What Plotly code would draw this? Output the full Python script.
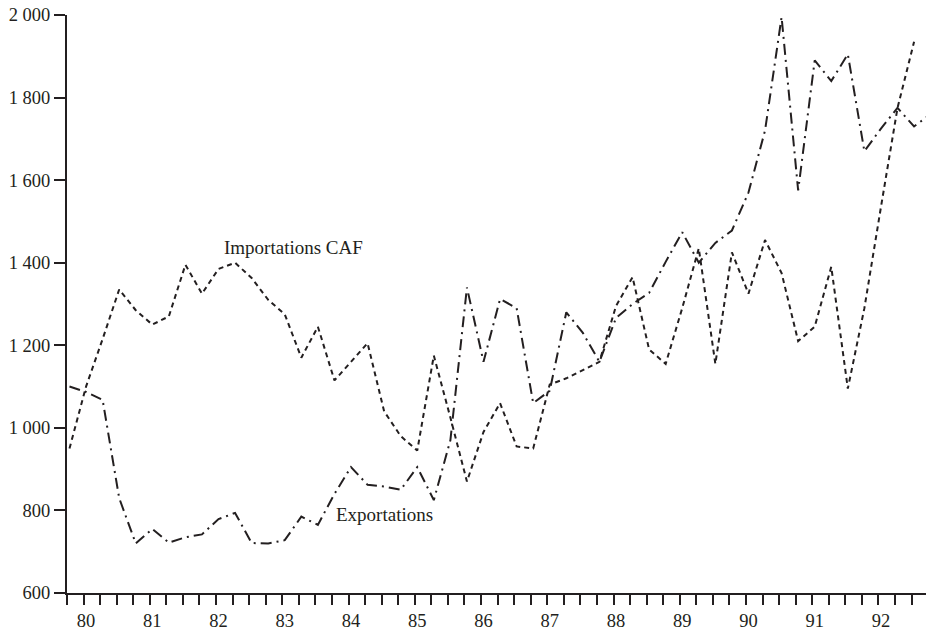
import plotly.graph_objects as go

# Quarterly series, 1980 Q1 .. 1993 Q1 (index 0..52)
quarter_index = list(range(53))
year_labels = ["80", "81", "82", "83", "84", "85", "86", "87", "88", "89", "90", "91", "92"]
year_label_positions = [1, 5, 9, 13, 17, 21, 25, 29, 33, 37, 41, 45, 49]

importations_caf = [
    950, 1100, 1215, 1335, 1285, 1250, 1270, 1395, 1325, 1385,
    1400, 1363, 1310, 1275, 1170, 1245, 1115, 1160, 1205, 1040,
    980, 945, 1175, 1025, 870, 990, 1060, 955, 950, 1105,
    1120, 1140, 1160, 1295, 1365, 1190, 1155, 1290, 1435, 1155,
    1425, 1325, 1455, 1375, 1210, 1245, 1390, 1095, 1290, 1535,
    1775, 1935, None,
]
exportations = [
    1100, 1087, 1068, 830, 720, 755, 722, 735, 742, 779,
    794, 721, 720, 728, 785, 765, 840, 905, 862, 858,
    850, 905, 825, 970, 1340, 1160, 1312, 1290, 1060, 1090,
    1280, 1230, 1160, 1266, 1300, 1327, 1402, 1474, 1400, 1448,
    1478, 1570, 1720, 1995, 1575, 1890, 1840, 1905, 1670, 1725,
    1775, 1730, 1760,
]

ink = "#231f20"
font_family = "Liberation Serif, Times New Roman, serif"

fig = go.Figure()
fig.add_trace(go.Scatter(
    x=quarter_index, y=importations_caf, mode="lines",
    line=dict(color=ink, width=2, dash="5px,4px"),
    connectgaps=False, showlegend=False, hoverinfo="skip",
))
fig.add_trace(go.Scatter(
    x=quarter_index, y=exportations, mode="lines",
    line=dict(color=ink, width=2, dash="11px,5px,2px,5px"),
    showlegend=False, hoverinfo="skip",
))

fig.add_annotation(x=9.2, y=1437, text="Importations CAF", showarrow=False,
                   xanchor="left", yanchor="middle",
                   font=dict(family=font_family, size=19, color=ink))
fig.add_annotation(x=16.0, y=791, text="Exportations", showarrow=False,
                   xanchor="left", yanchor="middle",
                   font=dict(family=font_family, size=19, color=ink))

fig.update_layout(
    width=926, height=634,
    margin=dict(l=67, r=0, t=15, b=41, autoexpand=False),
    paper_bgcolor="white", plot_bgcolor="white",
    separators=". ",
    font=dict(family=font_family, size=18.5, color=ink),
)
fig.update_xaxes(
    range=[-0.15, 51.72], automargin=False,
    showgrid=False, zeroline=False,
    showline=True, linecolor=ink, linewidth=2,
    tickmode="array", tickvals=year_label_positions, ticktext=year_labels,
    ticks="outside", ticklen=10, tickwidth=2, tickcolor="rgba(0,0,0,0)",
    minor=dict(ticks="outside", tick0=-0.15, dtick=1, ticklen=10,
               tickwidth=2, tickcolor=ink, showgrid=False),
    tickfont=dict(family=font_family, size=18.5, color=ink),
)
fig.update_yaxes(
    range=[600, 2000], automargin=False,
    showgrid=False, zeroline=False,
    showline=True, linecolor=ink, linewidth=2,
    tickmode="linear", tick0=600, dtick=200, tickformat=",d",
    ticks="outside", ticklen=11, tickwidth=2, tickcolor=ink,
    tickfont=dict(family=font_family, size=18.5, color=ink),
)

fig.write_html("out.html", config={"displayModeBar": False},
               post_script="document.body.style.margin='0';")
